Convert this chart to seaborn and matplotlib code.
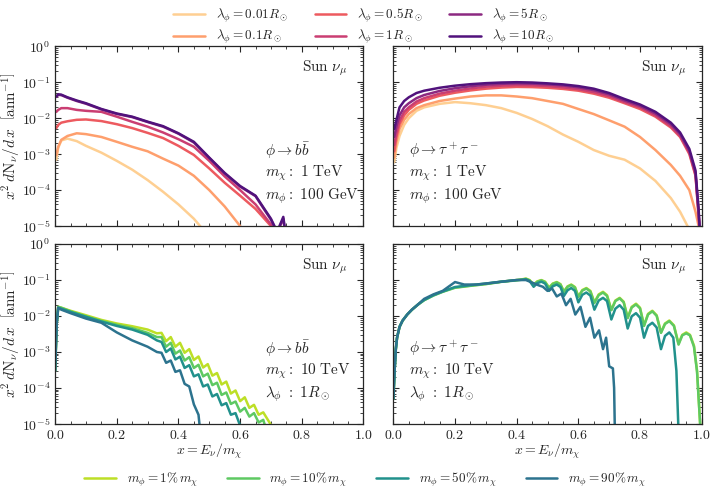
import numpy as np
import pandas as pd
import matplotlib
matplotlib.use("Agg")
import matplotlib.pyplot as plt
import seaborn as sns
from matplotlib.ticker import MultipleLocator, LogLocator, NullFormatter
from matplotlib.lines import Line2D

# --- DATA ---------------------------------------------------------------
# panel (0,0): phi -> b bbar, m_chi = 1 TeV, m_phi = 100 GeV
x_tl = [0.004, 0.01, 0.02, 0.04, 0.07, 0.1, 0.15, 0.2, 0.25, 0.3, 0.35, 0.4,
        0.45, 0.5, 0.55, 0.6, 0.65, 0.7, 0.72, 0.74, 0.76]
tl_001 = [7e-4, 1.5e-3, 2.4e-3, 2.7e-3, 2.3e-3, 1.7e-3, 1.1e-3, 6.5e-4, 3.7e-4, 1.9e-4,
          9e-5, 4e-5, 1.6e-5, 5e-6, 1e-6, 1e-6, 1e-6, 1e-6, 1e-6, 1e-6, 1e-6]
tl_01 = [9.4e-4, 1.6e-3, 2.5e-3, 3.2e-3, 3.8e-3, 3.6e-3, 3.0e-3, 2.2e-3, 1.6e-3, 1.2e-3,
         7.5e-4, 4.8e-4, 2.5e-4, 1e-4, 3.5e-5, 1e-5, 1e-6, 1e-6, 1e-6, 1e-6, 1e-6]
tl_05 = [5.3e-3, 6.5e-3, 7.5e-3, 8.2e-3, 9.0e-3, 9.2e-3, 8.3e-3, 6.8e-3, 5.3e-3, 3.9e-3,
         2.8e-3, 1.7e-3, 9.5e-4, 4e-4, 1.6e-4, 7e-5, 3e-5, 1e-5, 3e-6, 1e-6, 1e-6]
tl_1 = [0.015, 0.017, 0.019, 0.019, 0.017, 0.016, 0.015, 0.011, 7.9e-3, 5.8e-3,
        4.0e-3, 2.6e-3, 1.6e-3, 6.5e-4, 2.4e-4, 1e-4, 4e-5, 1.1e-5, 5e-6, 1e-6, 1e-6]
tl_5 = [0.039, 0.0445, 0.0437, 0.037, 0.030, 0.0252, 0.0175, 0.0131, 0.0107, 7.8e-3,
        5.8e-3, 3.7e-3, 2.1e-3, 7.8e-4, 2.9e-4, 1.25e-4, 6.8e-5, 1.5e-5, 6.5e-6, 1.6e-5, 1e-6]
tl_10 = [0.040, 0.046, 0.045, 0.038, 0.031, 0.026, 0.018, 0.0135, 0.011, 8.0e-3,
         6.0e-3, 3.8e-3, 2.2e-3, 8e-4, 3e-4, 1.3e-4, 7e-5, 1.6e-5, 7e-6, 1.8e-5, 1e-6]

# panel (0,1): phi -> tau tau, m_chi = 1 TeV, m_phi = 100 GeV
x_tr = [0.003, 0.01, 0.02, 0.035, 0.05, 0.075, 0.1, 0.15, 0.2, 0.25, 0.3, 0.35, 0.4,
        0.45, 0.5, 0.55, 0.6, 0.65, 0.7, 0.75, 0.8, 0.85, 0.9, 0.93, 0.96, 0.98, 0.99, 1.0]
tr_001 = [6e-4, 1.5e-3, 3.2e-3, 6.5e-3, 0.010, 0.016, 0.020, 0.025, 0.028, 0.026, 0.023,
          0.019, 0.014, 9.5e-3, 6e-3, 3.5e-3, 2.2e-3, 1.3e-3, 9e-4, 7e-4, 4e-4, 1.8e-4,
          6e-5, 2.5e-5, 8e-6, 1e-6, 1e-6, 1e-6]
tr_01 = [8e-4, 2.2e-3, 5e-3, 9e-3, 0.013, 0.019, 0.023, 0.030, 0.035, 0.040, 0.043,
         0.043, 0.040, 0.036, 0.030, 0.025, 0.018, 0.013, 8.7e-3, 5.8e-3, 3e-3, 1.3e-3,
         5e-4, 2.5e-4, 1e-4, 2.5e-5, 1e-5, 1e-6]
tr_05 = [1.2e-3, 3e-3, 6.8e-3, 0.012, 0.017, 0.025, 0.031, 0.042, 0.051, 0.059, 0.066,
         0.071, 0.074, 0.073, 0.070, 0.065, 0.058, 0.048, 0.037, 0.026, 0.018, 0.011,
         5.5e-3, 3e-3, 1e-3, 2.5e-4, 2e-5, 1e-6]
tr_1 = [1.8e-3, 4e-3, 8.5e-3, 0.015, 0.020, 0.029, 0.036, 0.048, 0.058, 0.067, 0.075,
        0.080, 0.083, 0.082, 0.078, 0.072, 0.064, 0.053, 0.041, 0.028, 0.020, 0.012,
        6e-3, 3.2e-3, 1.1e-3, 2.7e-4, 2e-5, 1e-6]
tr_5 = [3e-3, 6e-3, 0.012, 0.020, 0.026, 0.036, 0.044, 0.057, 0.068, 0.077, 0.085,
        0.090, 0.093, 0.091, 0.087, 0.081, 0.072, 0.060, 0.046, 0.031, 0.022, 0.0135,
        6.8e-3, 3.6e-3, 1.2e-3, 3e-4, 2.5e-5, 1e-6]
tr_10 = [5e-3, 9e-3, 0.020, 0.030, 0.038, 0.050, 0.058, 0.070, 0.080, 0.088, 0.094,
         0.098, 0.100, 0.098, 0.093, 0.087, 0.078, 0.066, 0.050, 0.034, 0.024, 0.015,
         7.5e-3, 4e-3, 1.4e-3, 3.5e-4, 3e-5, 1e-6]

# panel (1,0): phi -> b bbar, m_chi = 10 TeV, lambda = 1 R_sun
x_bl = [0.0, 0.005, 0.01, 0.02, 0.05, 0.1, 0.15, 0.2, 0.25, 0.3, 0.33,
        0.345, 0.36, 0.375, 0.39, 0.405, 0.42, 0.435, 0.45, 0.465, 0.48, 0.495,
        0.51, 0.525, 0.54, 0.555, 0.57, 0.585, 0.6, 0.615, 0.63, 0.645, 0.66,
        0.675, 0.69, 0.705, 0.72]
bl_1 = [3e-4, 6e-3, 0.018, 0.017, 0.014, 0.0105, 7.8e-3, 6.2e-3, 5.2e-3, 4.2e-3, 3.3e-3,
        3.4e-3, 2.0e-3, 2.6e-3, 1.4e-3, 1.8e-3, 9.5e-4, 1.2e-3, 6e-4, 7.5e-4, 3.7e-4, 4.6e-4,
        2.2e-4, 2.6e-4, 1.25e-4, 1.5e-4, 7e-5, 8.5e-5, 4.3e-5, 5.5e-5, 2.8e-5, 3.4e-5, 1.8e-5,
        2.1e-5, 1.3e-5, 8e-6, 1e-6]
bl_10 = [3e-4, 6e-3, 0.018, 0.017, 0.0135, 9.8e-3, 7.3e-3, 5.7e-3, 4.6e-3, 3.4e-3, 2.6e-3,
         2.6e-3, 1.4e-3, 1.8e-3, 9e-4, 1.1e-3, 5.8e-4, 7.2e-4, 3.6e-4, 4.4e-4, 2.1e-4, 2.5e-4,
         1.2e-4, 1.4e-4, 6.4e-5, 7.5e-5, 3.6e-5, 4.2e-5, 2.2e-5, 2.8e-5, 1.6e-5, 2e-5, 1.1e-5,
         1.3e-5, 5e-6, 1e-6, 1e-6]
bl_50 = [3e-4, 6e-3, 0.017, 0.016, 0.013, 9.5e-3, 7.0e-3, 5.3e-3, 4.2e-3, 3.0e-3, 2.1e-3,
         1.9e-3, 1.0e-3, 1.25e-3, 6.2e-4, 7.4e-4, 3.6e-4, 4.3e-4, 2.1e-4, 2.4e-4, 1.1e-4, 1.25e-4,
         5.8e-5, 6.8e-5, 3.3e-5, 3.8e-5, 1.8e-5, 2e-5, 9e-6, 1e-6, 1e-6, 1e-6, 1e-6,
         1e-6, 1e-6, 1e-6, 1e-6]
bl_90 = [3e-4, 6e-3, 0.017, 0.015, 0.012, 8.5e-3, 6.5e-3, 3.5e-3, 2.1e-3, 1.4e-3, 1.0e-3,
         9.5e-4, 5e-4, 5.8e-4, 2.8e-4, 3.1e-4, 1.3e-4, 1.1e-4, 3.5e-5, 1.8e-5, 1e-6, 1e-6,
         1e-6, 1e-6, 1e-6, 1e-6, 1e-6, 1e-6, 1e-6, 1e-6, 1e-6, 1e-6, 1e-6,
         1e-6, 1e-6, 1e-6, 1e-6]

# panel (1,1): phi -> tau tau, m_chi = 10 TeV, lambda = 1 R_sun
x_br_g = [0.0, 0.004, 0.008, 0.012, 0.02, 0.03, 0.045, 0.06, 0.08, 0.1, 0.13, 0.16,
          0.2, 0.25, 0.3, 0.35, 0.4, 0.418, 0.43, 0.442, 0.455, 0.467, 0.48, 0.492,
          0.505, 0.517, 0.53, 0.542, 0.553, 0.565, 0.577, 0.589, 0.60, 0.613, 0.626,
          0.639, 0.652, 0.666, 0.68, 0.693, 0.707, 0.72, 0.734, 0.747, 0.76, 0.773,
          0.787, 0.80, 0.813, 0.826, 0.84, 0.854, 0.868, 0.881, 0.895, 0.91, 0.925,
          0.937, 0.95, 0.962, 0.975, 0.985, 0.995, 1.0]
br_1 = [5e-5, 3e-4, 1.2e-3, 2.5e-3, 5e-3, 7.5e-3, 0.011, 0.015, 0.021, 0.028, 0.038,
        0.048, 0.062, 0.070, 0.078, 0.090, 0.100, 0.105, 0.110, 0.100, 0.075, 0.092,
        0.100, 0.090, 0.062, 0.080, 0.088, 0.077, 0.048, 0.067, 0.075, 0.064, 0.035,
        0.053, 0.060, 0.050, 0.024, 0.040, 0.047, 0.038, 0.015, 0.027, 0.032, 0.025,
        9e-3, 0.018, 0.022, 0.017, 5.5e-3, 0.0115, 0.014, 0.0105, 3.5e-3, 6.2e-3,
        7.5e-3, 5.5e-3, 1.7e-3, 3e-3, 3.5e-3, 3e-3, 1.5e-3, 3e-4, 1e-5, 1e-6]
br_10 = [5e-5, 3e-4, 1.2e-3, 2.5e-3, 5e-3, 7.4e-3, 0.011, 0.0148, 0.0207, 0.0275, 0.037,
         0.047, 0.061, 0.069, 0.077, 0.089, 0.098, 0.103, 0.108, 0.098, 0.073, 0.090,
         0.098, 0.088, 0.060, 0.078, 0.086, 0.075, 0.047, 0.065, 0.073, 0.062, 0.034,
         0.051, 0.058, 0.048, 0.023, 0.038, 0.045, 0.036, 0.0145, 0.026, 0.031, 0.024,
         8.7e-3, 0.0172, 0.021, 0.0163, 5.3e-3, 0.011, 0.0135, 0.0101, 3.4e-3, 6e-3,
         7.2e-3, 5.3e-3, 1.6e-3, 2.9e-3, 3.3e-3, 2.9e-3, 1.4e-3, 2.8e-4, 1e-5, 1e-6]
x_br_t = [0.0, 0.004, 0.008, 0.012, 0.02, 0.03, 0.045, 0.06, 0.08, 0.1, 0.13, 0.16,
          0.2, 0.25, 0.3, 0.35, 0.4, 0.418, 0.43, 0.442, 0.455, 0.467, 0.48, 0.492,
          0.505, 0.517, 0.53, 0.542, 0.553, 0.565, 0.577, 0.589, 0.60, 0.613, 0.626,
          0.639, 0.652, 0.666, 0.68, 0.693, 0.707, 0.72, 0.734, 0.747, 0.76, 0.773,
          0.787, 0.80, 0.813, 0.826, 0.84, 0.854, 0.868, 0.881, 0.895, 0.908, 0.918,
          0.924, 0.93]
br_50 = [5e-5, 3e-4, 1.2e-3, 2.5e-3, 5e-3, 7.5e-3, 0.011, 0.015, 0.021, 0.028, 0.038,
         0.048, 0.064, 0.072, 0.080, 0.090, 0.100, 0.102, 0.105, 0.094, 0.065, 0.082,
         0.090, 0.080, 0.050, 0.067, 0.075, 0.064, 0.036, 0.052, 0.060, 0.050, 0.024,
         0.039, 0.045, 0.037, 0.015, 0.027, 0.032, 0.026, 8e-3, 0.016, 0.020, 0.015,
         4.5e-3, 9.8e-3, 0.012, 9e-3, 2.5e-3, 5.3e-3, 6.5e-3, 4.8e-3, 1.2e-3, 2.8e-3,
         3.5e-3, 2.5e-3, 3e-4, 1e-5, 1e-6]
x_br_b = [0.0, 0.004, 0.008, 0.012, 0.02, 0.03, 0.045, 0.06, 0.08, 0.1, 0.13, 0.16,
          0.2, 0.23, 0.27, 0.3, 0.35, 0.4, 0.43, 0.45, 0.47, 0.485, 0.5, 0.515, 0.53,
          0.545, 0.56, 0.575, 0.59, 0.607, 0.623, 0.638, 0.652, 0.667, 0.68, 0.69,
          0.70, 0.712, 0.716, 0.72]
br_90 = [5e-5, 3e-4, 1.2e-3, 2.5e-3, 5e-3, 7.5e-3, 0.011, 0.015, 0.021, 0.030, 0.040,
         0.050, 0.088, 0.075, 0.075, 0.080, 0.090, 0.100, 0.100, 0.085, 0.072, 0.065,
         0.050, 0.058, 0.035, 0.042, 0.020, 0.030, 0.011, 0.018, 5e-3, 9e-3, 2.5e-3,
         4e-3, 1.2e-3, 2.5e-3, 4e-4, 3.5e-4, 1e-4, 1e-6]

lam_labels = [r'$\lambda_\phi = 0.01 R_\odot$', r'$\lambda_\phi = 0.1 R_\odot$',
              r'$\lambda_\phi = 0.5 R_\odot$', r'$\lambda_\phi = 1 R_\odot$',
              r'$\lambda_\phi = 5 R_\odot$', r'$\lambda_\phi = 10 R_\odot$']
mphi_labels = [r'$m_\phi = 1\%\, m_\chi$', r'$m_\phi = 10\%\, m_\chi$',
               r'$m_\phi = 50\%\, m_\chi$', r'$m_\phi = 90\%\, m_\chi$']

# --- STYLE --------------------------------------------------------------
sns.set_style("ticks")
plt.rcParams['font.family'] = ['cmr10', 'DejaVu Serif']
plt.rcParams['mathtext.fontset'] = 'cm'
plt.rcParams['axes.unicode_minus'] = False
plt.rcParams['axes.formatter.use_mathtext'] = True

magma = sns.color_palette("magma", as_cmap=True)
viridis = sns.color_palette("viridis", as_cmap=True)
lam_colors = [magma(v) for v in [0.9, 0.8, 0.65, 0.55, 0.4, 0.25]]
mphi_colors = [viridis(v) for v in [0.9, 0.75, 0.5, 0.38]]

fig, axes = plt.subplots(2, 2, figsize=(7.16, 4.97), dpi=100, sharex=True, sharey=True)
fig.subplots_adjust(left=0.077, right=0.980, top=0.907, bottom=0.147,
                    wspace=0.097, hspace=0.1)

def draw(ax, x, y, c):
    sns.lineplot(x=x, y=y, ax=ax, color=c, lw=1.8, estimator=None, sort=False,
                 legend=False)

for y, c in zip([tl_001, tl_01, tl_05, tl_1, tl_5, tl_10], lam_colors):
    draw(axes[0, 0], x_tl, y, c)
for y, c in zip([tr_001, tr_01, tr_05, tr_1, tr_5, tr_10], lam_colors):
    draw(axes[0, 1], x_tr, y, c)
for y, c in zip([bl_1, bl_10, bl_50, bl_90], mphi_colors):
    draw(axes[1, 0], x_bl, y, c)
for x, y, c in zip([x_br_g, x_br_g, x_br_t, x_br_b], [br_1, br_10, br_50, br_90], mphi_colors):
    draw(axes[1, 1], x, y, c)

for ax in axes.flat:
    ax.set_yscale('log')
    ax.set_xlim(0, 1)
    ax.set_ylim(1e-5, 1)
    ax.xaxis.set_major_locator(MultipleLocator(0.2))
    ax.xaxis.set_minor_locator(MultipleLocator(0.05))
    ax.yaxis.set_major_locator(LogLocator(base=10, numticks=10))
    ax.yaxis.set_minor_locator(LogLocator(base=10, subs=np.arange(2, 10), numticks=20))
    ax.yaxis.set_minor_formatter(NullFormatter())
    ax.tick_params(which='both', direction='in', top=True, right=True, labelsize=10)
    ax.tick_params(which='major', length=4, width=0.8)
    ax.tick_params(which='minor', length=2, width=0.6)
    for s in ax.spines.values():
        s.set_linewidth(0.9)
    ax.set_xlabel('')
    ax.set_ylabel('')
    ax.text(0.95, 0.93, r'$\mathrm{Sun}\ \nu_\mu$', transform=ax.transAxes,
            ha='right', va='top', fontsize=11)

ylab = r'$x^2\, d\mathrm{N}_\nu/d\,x\ \ \left[\mathrm{ann}^{-1}\right]$'
for ax in axes[:, 0]:
    ax.set_ylabel(ylab, fontsize=11)
    ax.yaxis.set_label_coords(-0.11, 0.5)
for ax in axes[1]:
    ax.set_xlabel(r'$x = E_\nu/m_\chi$', fontsize=10, labelpad=0)

text_tl = [r'$\phi \rightarrow b\bar{b}$', r'$m_\chi:\ 1\ \mathrm{TeV}$', r'$m_\phi:\ 100\ \mathrm{GeV}$']
text_tr = [r'$\phi \rightarrow \tau^+\tau^-$', r'$m_\chi:\ 1\ \mathrm{TeV}$', r'$m_\phi:\ 100\ \mathrm{GeV}$']
text_bl = [r'$\phi \rightarrow b\bar{b}$', r'$m_\chi:\ 10\ \mathrm{TeV}$', r'$\lambda_\phi\ :\ 1 R_\odot$']
text_br = [r'$\phi \rightarrow \tau^+\tau^-$', r'$m_\chi:\ 10\ \mathrm{TeV}$', r'$\lambda_\phi\ :\ 1 R_\odot$']
for ax, lines, x0 in [(axes[0, 0], text_tl, 0.68), (axes[0, 1], text_tr, 0.05),
                      (axes[1, 0], text_bl, 0.68), (axes[1, 1], text_br, 0.05)]:
    for t, yy in zip(lines, [0.42, 0.295, 0.165]):
        ax.text(x0, yy, t, transform=ax.transAxes, ha='left', va='center', fontsize=11)

h_top = [Line2D([], [], color=c, lw=1.8) for c in lam_colors]
fig.legend(h_top, lam_labels, ncol=3, loc='upper center', bbox_to_anchor=(0.508, 1.01),
           frameon=False, fontsize=9.5, columnspacing=2.0, handlelength=2.4,
           labelspacing=0.25)
h_bot = [Line2D([], [], color=c, lw=1.8) for c in mphi_colors]
fig.legend(h_bot, mphi_labels, ncol=4, loc='center', bbox_to_anchor=(0.51, 0.035),
           frameon=False, fontsize=9.5, columnspacing=2.2, handlelength=2.4)

fig.savefig('out.png', dpi=100)
